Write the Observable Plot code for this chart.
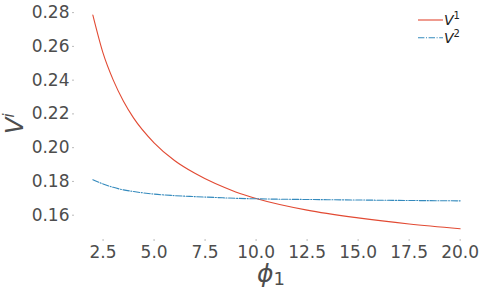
<!DOCTYPE html>
<html>
<head>
<meta charset="utf-8">
<script src="https://cdn.jsdelivr.net/npm/d3@7"></script>
<script src="https://cdn.jsdelivr.net/npm/@observablehq/plot@0.6"></script>
<style>
  html, body { margin: 0; padding: 0; background: #fff; }
  #chart svg { display: block; }
</style>
</head>
<body>
<div id="chart"></div>
<script>
// Data
const phi1 = [2, 2.5, 3, 3.5, 4, 5, 6, 7, 8, 9, 10, 12.5, 15, 17.5, 20];
const v1 = [0.2785, 0.2560, 0.2400, 0.2275, 0.2175, 0.2029, 0.1924, 0.1848, 0.1787, 0.1738, 0.1699,
            0.1630, 0.1584, 0.1548, 0.1520];
const phi2 = [2, 2.5, 3, 3.5, 4, 5, 6, 7, 8, 9, 10, 12.5, 15, 17.5, 20];
const v2 = [0.1810, 0.1785, 0.1765, 0.1750, 0.1740, 0.1725, 0.1716, 0.1710, 0.1705, 0.1700, 0.1697,
            0.1693, 0.1690, 0.1687, 0.1685];
const xTicks = [2.5, 5, 7.5, 10, 12.5, 15, 17.5, 20];
const yTicks = [0.16, 0.18, 0.20, 0.22, 0.24, 0.26, 0.28];
const seriesNames = ["1", "2"];
const colors = ["#E24A33", "#348ABD"];

const rows1 = phi1.map((x, i) => ({x, y: v1[i]}));
const rows2 = phi2.map((x, i) => ({x, y: v2[i]}));

const font = "DejaVu Sans, sans-serif";
const W = 484, H = 291;
const mL = 74, mR = 6, mT = 3, mB = 52;

const svg = Plot.plot({
  width: W,
  height: H,
  marginLeft: mL,
  marginRight: mR,
  marginTop: mT,
  marginBottom: mB,
  style: {fontFamily: font, background: "#fff", color: "#555"},
  x: {domain: [1.1, 20.9]},
  y: {domain: [0.1456, 0.2854]},
  marks: [
    Plot.axisX({ticks: xTicks, tickFormat: d3.format(".1f"), tickSize: 2, tickPadding: 4,
                fontSize: 17, stroke: "#bbb", fill: "#4d4d4d", label: null}),
    Plot.axisY({ticks: yTicks, tickFormat: d3.format(".2f"), tickSize: 2, tickPadding: 3,
                fontSize: 17, stroke: "#bbb", fill: "#4d4d4d", label: null}),
    Plot.line(rows1, {x: "x", y: "y", stroke: colors[0], strokeWidth: 1.1, curve: "monotone-x"}),
    Plot.line(rows2, {x: "x", y: "y", stroke: colors[1], strokeWidth: 1.1, curve: "monotone-x",
                      strokeDasharray: "6.4,1.6,1,1.6"})
  ]
});

const s = d3.select(svg);
// x-axis label: φ₁
const xl = s.append("text")
  .attr("x", 271)
  .attr("y", 282)
  .attr("text-anchor", "middle")
  .attr("font-family", font)
  .attr("font-size", 25)
  .attr("fill", "#4d4d4d");
xl.append("tspan").attr("font-style", "italic").text("ϕ");
xl.append("tspan").attr("font-size", 18).attr("dy", 3).text("1");

// y-axis label: V^i
const yl = s.append("text")
  .attr("transform", `translate(23, 134) rotate(-90)`)
  .attr("text-anchor", "start")
  .attr("font-family", font)
  .attr("font-size", 24)
  .attr("fill", "#4d4d4d");
yl.append("tspan").attr("font-style", "italic").text("V");
yl.append("tspan").attr("font-style", "italic").attr("font-size", 15).attr("dy", -9).text("i");

// legend
const lg = s.append("g").attr("font-family", font);
seriesNames.forEach((n, i) => {
  const y = 20 + i * 17.7;
  lg.append("line").attr("x1", 418).attr("x2", 443).attr("y1", y).attr("y2", y)
    .attr("stroke", colors[i]).attr("stroke-width", 1.1)
    .attr("stroke-dasharray", i === 1 ? "6.4,1.6,1,1.6" : null);
  const t = lg.append("text").attr("x", 452).attr("y", y + 5).attr("font-size", 14).attr("fill", "#222");
  t.append("tspan").attr("font-style", "italic").text("V");
  t.append("tspan").attr("font-size", 10).attr("dy", -6).text(n);
});

document.getElementById("chart").appendChild(svg);
</script>
</body>
</html>
